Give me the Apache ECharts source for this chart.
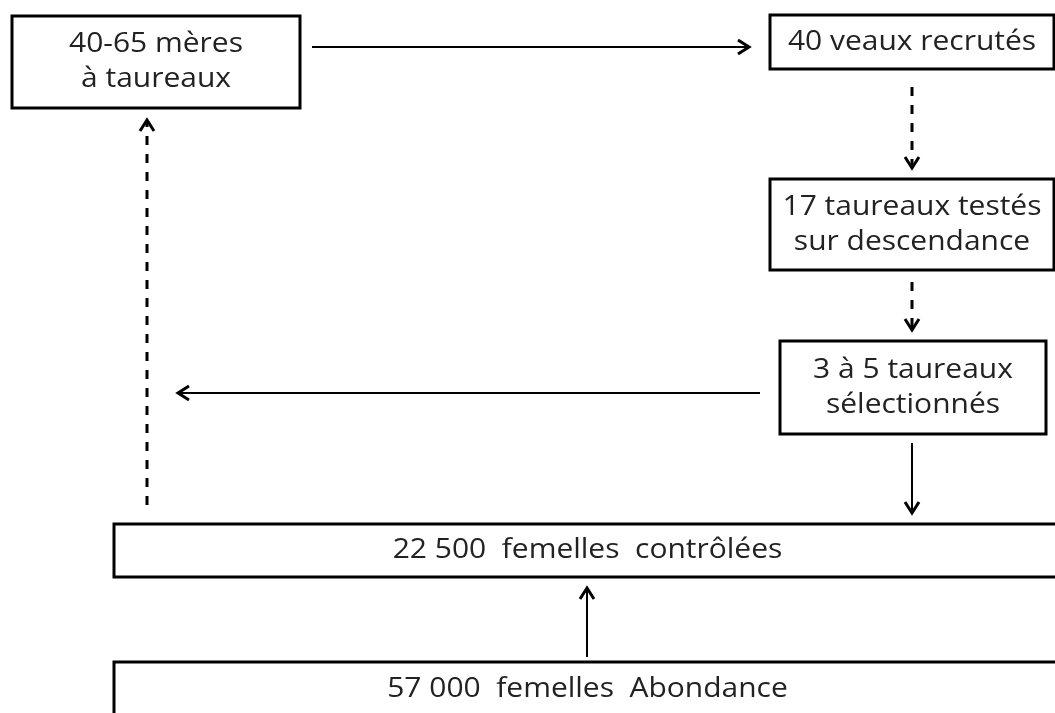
<!DOCTYPE html>
<html>
<head>
<meta charset="utf-8">
<script src="https://cdn.jsdelivr.net/npm/echarts@6/dist/echarts.min.js"></script>
<style>
html,body{margin:0;padding:0;background:#fff;}
#chart{width:1055px;height:713px;}
</style>
</head>
<body>
<div id="chart"></div>
<script>
// Box texts and extents (diagram units)
const boxLabels = ['40-65 mères\nà taureaux', '40 veaux recrutés', '17 taureaux testés\nsur descendance', '3 à 5 taureaux\nsélectionnés', '22 500  femelles  contrôlées', '57 000  femelles  Abondance'];
const boxLeft   = [12, 770, 770, 780, 114, 114];
const boxTop    = [16, 15, 179, 341, 524, 662];
const boxRight  = [300, 1054, 1054, 1046, 1061, 1061];
const boxBottom = [108, 69, 270, 434, 577, 717];

// Arrows: start -> tip
const arrowFromX = [312, 912, 912, 760, 912, 147, 587];
const arrowFromY = [47, 87, 282, 393, 443, 505, 657];
const arrowToX   = [749, 912, 912, 178, 912, 147, 587];
const arrowToY   = [47, 168, 330, 393, 513, 120, 588];
const arrowDashed = [false, true, true, false, false, true, false];

const boxData = boxLabels.map((t, i) => [boxLeft[i], boxTop[i], boxRight[i], boxBottom[i]]);
const arrowData = arrowFromX.map((x, i) => [x, arrowFromY[i], arrowToX[i], arrowToY[i], arrowDashed[i] ? 1 : 0]);

const chart = echarts.init(document.getElementById('chart'), null, {renderer: 'canvas'});
chart.setOption({
  animation: false,
  backgroundColor: '#ffffff',
  grid: {left: 0, right: 0, top: 0, bottom: 0},
  xAxis: {type: 'value', min: 0, max: 1055, show: false},
  yAxis: {type: 'value', min: 0, max: 713, inverse: true, show: false},
  series: [
    {
      type: 'custom',
      clip: false,
      data: boxData,
      renderItem: function (params, api) {
        const p0 = api.coord([api.value(0), api.value(1)]);
        const p1 = api.coord([api.value(2), api.value(3)]);
        return {
          type: 'group',
          children: [
            {type: 'rect', shape: {x: p0[0], y: p0[1], width: p1[0] - p0[0], height: p1[1] - p0[1]},
             style: {fill: '#ffffff', stroke: '#000000', lineWidth: 3}},
            {type: 'text', x: (p0[0] + p1[0]) / 2, y: (p0[1] + p1[1]) / 2, scaleX: 1.11,
             style: {text: boxLabels[params.dataIndex], x: 0, y: 0,
             align: 'center', verticalAlign: 'middle', fontFamily: 'Open Sans', fontSize: 27, lineHeight: 35, fill: '#222222'}}
          ]
        };
      }
    },
    {
      type: 'custom',
      clip: false,
      data: arrowData,
      renderItem: function (params, api) {
        const a = api.coord([api.value(0), api.value(1)]);
        const b = api.coord([api.value(2), api.value(3)]);
        const dashed = api.value(4) === 1;
        const dx = b[0] - a[0], dy = b[1] - a[1];
        const len = Math.sqrt(dx * dx + dy * dy);
        const ux = dx / len, uy = dy / len;
        const hl = 11, hw = 7;
        const bx = b[0] - ux * hl, by = b[1] - uy * hl;
        return {
          type: 'group',
          children: [
            {type: 'line', shape: {x1: a[0], y1: a[1], x2: b[0] - ux * 2, y2: b[1] - uy * 2},
             style: {stroke: '#000000', lineWidth: dashed ? 3 : 2, lineDash: dashed ? [9, 9] : null}},
            {type: 'polyline', shape: {points: [[bx - uy * hw, by + ux * hw], [b[0], b[1]], [bx + uy * hw, by - ux * hw]]},
             style: {stroke: '#000000', lineWidth: 3, fill: null}}
          ]
        };
      }
    }
  ]
});
</script>
</body>
</html>
